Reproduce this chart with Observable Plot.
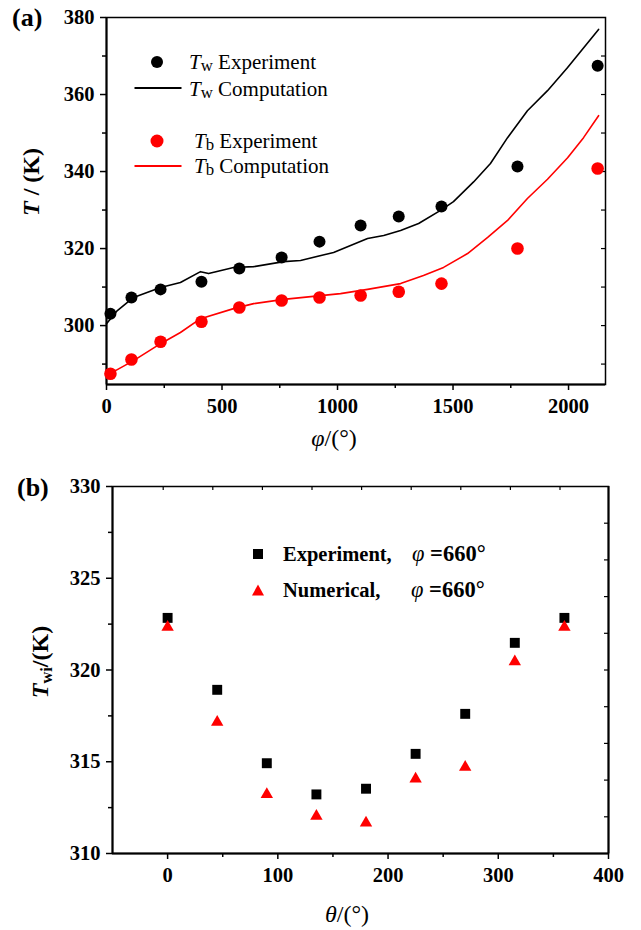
<!DOCTYPE html>
<html><head><meta charset="utf-8">
<script src="https://cdn.jsdelivr.net/npm/d3@7"></script>
<script src="https://cdn.jsdelivr.net/npm/@observablehq/plot@0.6"></script>
<style>
body{margin:0;background:#fff;}
#wrap{position:relative;width:641px;height:930px;font-family:"Liberation Serif","Times New Roman",serif;color:#000;overflow:hidden;}
.abs{position:absolute;white-space:nowrap;line-height:1;}
.c{transform:translate(-50%,-50%);}
.l{transform:translate(0,-50%);}
.rot{transform:translate(-50%,-50%) rotate(-90deg);}
.sym{position:absolute;transform:translate(-50%,-50%);}
sub{font-size:0.8em;vertical-align:-0.12em;line-height:0;}
#wrap svg{position:absolute;left:0;}
</style></head><body><div id="wrap"></div>
<script>
// ---------- Panel (a) data ----------
const phiExp = [17, 108, 234, 411, 575, 758, 922, 1100, 1265, 1450, 1779, 2126];
const TwExp  = [303.1, 307.3, 309.4, 311.4, 314.8, 317.7, 321.8, 326.0, 328.3, 330.9, 341.3, 367.5];
const TbExp  = [287.5, 291.2, 295.8, 301.0, 304.7, 306.5, 307.3, 307.8, 308.8, 310.9, 320.0, 340.8];
const phiTwComp = [0, 47, 117, 234, 320, 407, 442, 550, 637, 767, 840, 983, 1130, 1200, 1273, 1351, 1446, 1502, 1589, 1662, 1736, 1822, 1909, 1996, 2130];
const TwComp    = [300.5, 303.9, 307.3, 309.9, 311.2, 314.0, 313.5, 315.1, 315.3, 316.6, 316.9, 319.0, 322.6, 323.4, 324.7, 326.5, 329.9, 332.2, 337.3, 342.1, 348.8, 355.8, 361.0, 367.0, 376.9];
const phiTbComp = [0, 117, 234, 320, 407, 550, 637, 767, 1013, 1130, 1273, 1372, 1459, 1563, 1650, 1736, 1822, 1909, 1996, 2065, 2130];
const TbComp    = [287.0, 290.9, 295.3, 298.2, 301.8, 304.4, 305.7, 306.8, 308.3, 309.4, 310.9, 313.0, 315.1, 318.7, 322.9, 327.3, 333.0, 338.0, 343.6, 348.8, 354.5];
const xDomA = [0, 2160], yDomA = [284.7, 380];
const xMajorA = [0, 500, 1000, 1500, 2000], xMinorA = [250, 750, 1250, 1750];
const yMajorA = [300, 320, 340, 360, 380], yMinorA = [290, 310, 330, 350, 370];
const yRightA = [290, 300, 310, 320, 330, 340, 350, 360, 370];

// ---------- Panel (b) data ----------
const theta   = [0, 45, 90, 135, 180, 225, 270, 315, 360];
const TwiExp  = [322.84, 318.92, 314.92, 313.22, 313.53, 315.43, 317.61, 321.48, 322.84];
const TwiNum  = [322.33, 317.16, 313.22, 312.03, 311.67, 314.07, 314.70, 320.46, 322.33];
const xDomB = [-50, 400], yDomB = [310, 330];
const xMajorB = [0, 100, 200, 300, 400], xMinorB = [50, 150, 250, 350];
const yMajorB = [310, 315, 320, 325, 330], yMinorB = [312.5, 317.5, 322.5, 327.5];
const yRightB = [312, 314, 316, 318, 320, 322, 324, 326, 328];
const xTopB = [-4, 41, 86, 131, 176, 221, 266, 311, 356];

const zip = (xs, ys) => xs.map((x, i) => ({x, y: ys[i]}));
const font = {fontFamily: '"Liberation Serif","Times New Roman",serif', fontSize: "20.5px", fontWeight: "bold", background: "transparent", color: "#000"};
const blank = () => "";
const plain = d => String(d);

// ---------- Panel (a) ----------
const WA = 641, HA = 430, mlA = 106, mrA = 36, mtA = 17, mbA = 46;
const pwA = WA - mlA - mrA;
const plotA = Plot.plot({
  width: WA, height: HA, marginLeft: mlA, marginRight: mrA, marginTop: mtA, marginBottom: mbA,
  style: font,
  x: {domain: xDomA}, y: {domain: yDomA},
  marks: [
    Plot.frame({strokeWidth: 1.5}),
    Plot.ruleX([xDomA[0]], {strokeWidth: 2}),
    Plot.ruleY([yDomA[0]], {strokeWidth: 2}),
    Plot.axisY(yMajorA, {tickSize: 6, tickPadding: 6, strokeWidth: 1.5, tickFormat: plain, label: null}),
    Plot.axisY(yMinorA, {tickSize: 4, strokeWidth: 1.5, tickFormat: blank, label: null}),
    Plot.axisX(xMajorA, {tickSize: 6, tickPadding: 8, strokeWidth: 1.5, tickFormat: plain, label: null}),
    Plot.axisX(xMinorA, {tickSize: 4, strokeWidth: 1.5, tickFormat: blank, label: null}),
    Plot.tickY(yRightA, {y: d => d, insetLeft: pwA - 4, strokeWidth: 1.2}),
    Plot.line(zip(phiTwComp, TwComp), {x: "x", y: "y", stroke: "#000", strokeWidth: 1.6}),
    Plot.line(zip(phiTbComp, TbComp), {x: "x", y: "y", stroke: "#ff0000", strokeWidth: 1.6}),
    Plot.dot(zip(phiExp, TwExp), {x: "x", y: "y", r: 6, fill: "#000"}),
    Plot.dot(zip(phiExp, TbExp), {x: "x", y: "y", r: 6.3, fill: "#ff0000"})
  ]
});

// ---------- Panel (b) ----------
const WB = 641, HB = 500, mlB = 112, mrB = 33, mtB = 56, mbB = 77;
const pwB = WB - mlB - mrB, phB = HB - mtB - mbB;
const plotB = Plot.plot({
  width: WB, height: HB, marginLeft: mlB, marginRight: mrB, marginTop: mtB, marginBottom: mbB,
  style: font,
  x: {domain: xDomB}, y: {domain: yDomB},
  marks: [
    Plot.frame({strokeWidth: 1.5}),
    Plot.ruleX([xDomB[0]], {strokeWidth: 2}),
    Plot.ruleX([xDomB[1]], {strokeWidth: 2}),
    Plot.ruleY([yDomB[0]], {strokeWidth: 2}),
    Plot.axisY(yMajorB, {tickSize: 6, tickPadding: 6, strokeWidth: 1.5, tickFormat: plain, label: null}),
    Plot.axisY(yMinorB, {tickSize: 4, strokeWidth: 1.5, tickFormat: blank, label: null}),
    Plot.axisX(xMajorB, {tickSize: 6, tickPadding: 8, strokeWidth: 1.5, tickFormat: plain, label: null}),
    Plot.axisX(xMinorB, {tickSize: 4, strokeWidth: 1.5, tickFormat: blank, label: null}),
    Plot.tickY(yRightB, {y: d => d, insetLeft: pwB - 4, strokeWidth: 1.2}),
    Plot.tickX(xTopB, {x: d => d, insetBottom: phB - 4, strokeWidth: 1.2}),
    Plot.dot(zip(theta, TwiExp), {x: "x", y: "y", symbol: "square", r: 5.6, fill: "#000"}),
    Plot.dot(zip(theta, TwiNum), {x: "x", y: "y", symbol: "triangle", r: 4.6, fill: "#ff0000"})
  ]
});

const wrap = document.getElementById("wrap");
plotA.style.top = "0px";
plotB.style.top = HA + "px";
wrap.appendChild(plotA);
wrap.appendChild(plotB);

function add(html, cls, left, top, style) {
  const d = document.createElement("div");
  d.className = "abs " + cls;
  d.style.left = left + "px"; d.style.top = top + "px";
  if (style) d.style.cssText += style;
  d.innerHTML = html;
  wrap.appendChild(d);
  return d;
}
function sym(left, top, style) {
  const d = document.createElement("div");
  d.className = "sym";
  d.style.left = left + "px"; d.style.top = top + "px";
  d.style.cssText += style;
  wrap.appendChild(d);
}

// panel labels
add("(a)", "l", 12, 18, "font-size:26px;font-weight:bold;");
add("(b)", "l", 17, 488, "font-size:26px;font-weight:bold;");

// axis titles
add('<i>φ</i>/(°)', "c", 334, 438, "font-size:24px;");
add('<i>θ</i>/(°)', "c", 347, 914, "font-size:24px;");
add('<b><i>T</i> / (K)</b>', "rot", 31, 182, "font-size:24px;");
add('<b><i>T</i><sub style="font-size:0.68em;vertical-align:-0.25em">wi</sub>/(K)</b>', "rot", 40, 662, "font-size:24px;");

// legend (a)
sym(157, 62, "width:12px;height:12px;border-radius:50%;background:#000;");
add('<i>T</i><sub>w</sub> Experiment', "l", 189, 62, "font-size:21px;");
sym(158, 88, "width:47px;height:2px;background:#000;");
add('<i>T</i><sub>w</sub> Computation', "l", 189, 89, "font-size:21px;");
sym(157, 141, "width:13px;height:13px;border-radius:50%;background:#ff0000;");
add('<i>T</i><sub>b</sub> Experiment', "l", 194, 141, "font-size:21px;");
sym(158, 166, "width:47px;height:2px;background:#ff0000;");
add('<i>T</i><sub>b</sub> Computation', "l", 194, 166, "font-size:21px;");

// legend (b)
sym(258, 554, "width:10px;height:10px;background:#000;");
add('<b>Experiment,</b>', "l", 283, 554, "font-size:20.5px;");
add('<i>φ</i> <b>=660°</b>', "l", 412, 554, "font-size:22.5px;");
sym(258, 590, "width:0;height:0;border-left:6px solid transparent;border-right:6px solid transparent;border-bottom:11px solid #ff0000;");
add('<b>Numerical,</b>', "l", 283, 590, "font-size:20.5px;");
add('<i>φ</i> <b>=660°</b>', "l", 411, 590, "font-size:22.5px;");
</script></body></html>
